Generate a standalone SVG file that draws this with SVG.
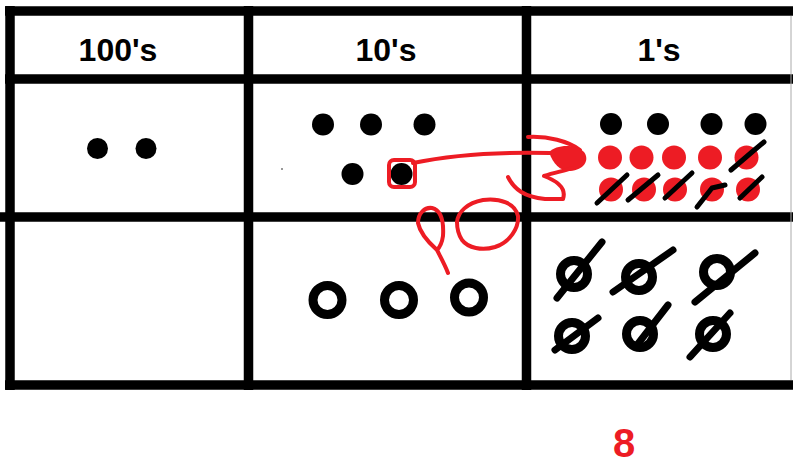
<svg xmlns="http://www.w3.org/2000/svg" width="793" height="465" viewBox="0 0 793 465">
<style>
.grid{stroke:#000;stroke-width:9.5;fill:none}
.hdr{font-family:"Liberation Sans",Arial,sans-serif;font-weight:bold;font-size:32px;fill:#000;text-anchor:middle}
.dot{fill:#000}
.rdot{fill:#ed1c24}
.ring{fill:none;stroke:#000;stroke-width:9}
.cross{fill:none;stroke:#000;stroke-width:7;stroke-linecap:round;stroke-linejoin:round}
.slash{fill:none;stroke:#000;stroke-width:5;stroke-linecap:round;stroke-linejoin:round}
.ink{fill:none;stroke:#ed1c24;stroke-width:4;stroke-linecap:round;stroke-linejoin:round}
</style>
<rect width="793" height="465" fill="#fff"/>
<g id="table">
<line class="grid" x1="5" y1="11" x2="793" y2="11"/>
<line class="grid" x1="5" y1="79" x2="793" y2="79"/>
<line class="grid" x1="0" y1="217" x2="793" y2="217"/>
<line class="grid" x1="5" y1="385" x2="793" y2="385"/>
<line class="grid" x1="10" y1="6" x2="10" y2="390"/>
<line class="grid" x1="248.5" y1="6" x2="248.5" y2="390"/>
<line class="grid" x1="526.5" y1="6" x2="526.5" y2="390"/>
<line x1="791" y1="16" x2="791" y2="380" stroke="#aaa" stroke-width="1"/>
</g>
<g id="headers">
<text class="hdr" x="118" y="61">100's</text>
<text class="hdr" x="386" y="61">10's</text>
<text class="hdr" x="659" y="61">1's</text>
</g>
<g id="hundreds">
<circle class="dot" cx="97.5" cy="148.5" r="10.5"/>
<circle class="dot" cx="146" cy="148.5" r="10.5"/>
</g>
<g id="tens-top">
<circle class="dot" cx="323" cy="124.5" r="11"/>
<circle class="dot" cx="371" cy="124.5" r="11"/>
<circle class="dot" cx="424.5" cy="124.5" r="11"/>
<circle class="dot" cx="352.5" cy="174" r="11"/>
<circle class="dot" cx="401.5" cy="174" r="11"/>
<circle cx="282" cy="169" r="1" fill="#777"/>
</g>
<g id="tens-bottom">
<circle class="ring" cx="327.5" cy="300" r="14.5"/>
<circle class="ring" cx="399" cy="300" r="14.5"/>
<circle class="ring" cx="469" cy="297.5" r="14.5"/>
</g>
<g id="ones-top">
<circle class="dot" cx="611" cy="124" r="11"/>
<circle class="dot" cx="658" cy="124" r="11"/>
<circle class="dot" cx="711.5" cy="124" r="11"/>
<circle class="dot" cx="755.5" cy="124" r="11"/>
<circle class="rdot" cx="610" cy="157.5" r="12"/>
<circle class="rdot" cx="641.5" cy="157.5" r="12"/>
<circle class="rdot" cx="674" cy="157.5" r="12"/>
<circle class="rdot" cx="710" cy="157.5" r="12"/>
<circle class="rdot" cx="746.5" cy="157.5" r="12"/>
<circle class="rdot" cx="611" cy="189.5" r="12"/>
<circle class="rdot" cx="644" cy="189.5" r="12"/>
<circle class="rdot" cx="675" cy="189.5" r="12"/>
<circle class="rdot" cx="712" cy="189.5" r="12"/>
<circle class="rdot" cx="748" cy="189.5" r="12"/>
<path class="slash" d="M731,170 L752,152 L764,142"/>
<path class="slash" d="M597,203 L627,175"/>
<path class="slash" d="M628,200 L658,175"/>
<path class="slash" d="M665,198 L692,173"/>
<path class="slash" d="M697,207 L712,188 L725,185"/>
<path class="slash" d="M740,198 L762,177"/>
</g>
<g id="ones-bottom">
<circle class="ring" cx="574" cy="274" r="13.5"/>
<path class="cross" d="M557,298 L602,242"/>
<circle class="ring" cx="639" cy="277" r="13.5"/>
<path class="cross" d="M613,292 L673,250"/>
<circle class="ring" cx="717" cy="272" r="13.5"/>
<path class="cross" d="M695,302 L755,253"/>
<circle class="ring" cx="572" cy="336" r="13.5"/>
<path class="cross" d="M555,350 L598,318"/>
<circle class="ring" cx="640" cy="334" r="13.5"/>
<path class="cross" d="M637,345 L668,305"/>
<circle class="ring" cx="713" cy="334" r="13.5"/>
<path class="cross" d="M690,357 L730,313"/>
</g>
<g id="annotations">
<rect class="ink" x="389" y="160" width="26" height="27" rx="5"/>
<path class="ink" d="M413,163 Q470,151 550,153"/>
<path class="ink" d="M528,137 C548,136 568,141 580,150"/>
<path d="M549,152 C556,145 574,143 584,152 C590,160 584,170 570,171 C560,171 553,164 549,152 Z" fill="#ed1c24"/>
<path class="ink" d="M508,177 C514,189 524,197 545,199 L563,199 C566,190 560,182 544,176 C555,172 565,171 572,168"/>
<path class="ink" d="M448,273 C445,265 440,256 437,250 C428,242 420,233 418,223 C418,213 425,207 432,208 C440,210 444,220 443,236 C442,243 440,247 437,250"/>
<path class="ink" d="M457,222 C458,212 467,203 483,200 C500,198 515,203 518,216 C519,228 510,242 495,247 C482,251 468,248 462,240 C458,234 457,228 457,222"/>
</g>
<text x="624" y="457" font-family="Liberation Sans,Arial,sans-serif" font-weight="bold" font-size="40" fill="#ed1c24" text-anchor="middle">8</text>
</svg>
